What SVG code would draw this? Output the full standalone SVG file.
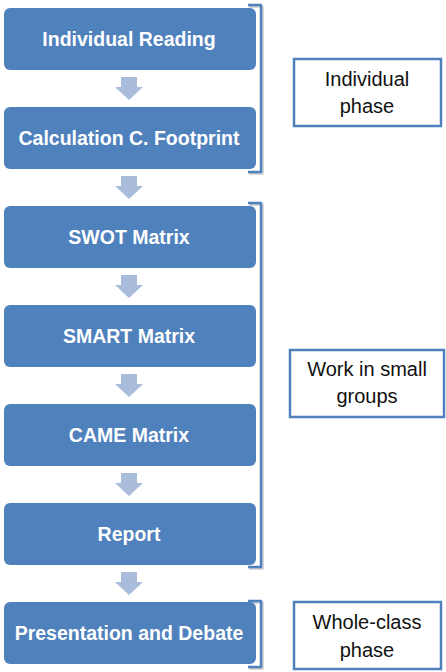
<svg xmlns="http://www.w3.org/2000/svg" width="446" height="672" viewBox="0 0 446 672">
  <style>
    .step rect { fill: #4F81BD; }
    .step text { fill: #FFFFFF; font-family: "Liberation Sans", Arial, sans-serif; font-weight: bold; font-size: 19.5px; text-anchor: middle; }
    .phase rect { fill: #FFFFFF; stroke: #4F81BD; stroke-width: 2.5; }
    .phase text { fill: #111111; font-family: "Liberation Sans", Arial, sans-serif; font-size: 20px; text-anchor: middle; }
    .arrow { fill: #A9BCDB; }
    .bracket { fill: none; stroke: #4F81BD; stroke-width: 2.5; stroke-linejoin: round; }
    .bracket-shadow { fill: none; stroke: #9A9A9A; stroke-opacity: 0.5; stroke-width: 2.5; stroke-linejoin: round; }
  </style>
  <defs>
    <polygon id="arr" points="121,7 137,7 137,17 143,17 129,30 115,17 121,17"/>
  </defs>

  <g id="connectors">
    <use href="#arr" class="arrow" y="70"/>
    <use href="#arr" class="arrow" y="169"/>
    <use href="#arr" class="arrow" y="268"/>
    <use href="#arr" class="arrow" y="367"/>
    <use href="#arr" class="arrow" y="466"/>
    <use href="#arr" class="arrow" y="565"/>
  </g>

  <g id="brackets">
    <path class="bracket-shadow" d="M249,6.5 H262.5 V173.5 H249"/>
    <path class="bracket" d="M248,5 H261 V172 H248"/>
    <path class="bracket-shadow" d="M249,204.5 H262.5 V568.5 H249"/>
    <path class="bracket" d="M248,203 H261 V567 H248"/>
    <path class="bracket-shadow" d="M249,602.5 H262.5 V668.5 H249"/>
    <path class="bracket" d="M248,601 H261 V667 H248"/>
  </g>

  <g id="step-individual-reading" class="step">
    <rect x="4" y="8" width="252" height="62" rx="6"/>
    <text x="129" y="46">Individual Reading</text>
  </g>
  <g id="step-calculation" class="step">
    <rect x="4" y="107" width="252" height="62" rx="6"/>
    <text x="129" y="145">Calculation C. Footprint</text>
  </g>
  <g id="step-swot" class="step">
    <rect x="4" y="206" width="252" height="62" rx="6"/>
    <text x="129" y="244">SWOT Matrix</text>
  </g>
  <g id="step-smart" class="step">
    <rect x="4" y="305" width="252" height="62" rx="6"/>
    <text x="129" y="343">SMART Matrix</text>
  </g>
  <g id="step-came" class="step">
    <rect x="4" y="404" width="252" height="62" rx="6"/>
    <text x="129" y="442">CAME Matrix</text>
  </g>
  <g id="step-report" class="step">
    <rect x="4" y="503" width="252" height="62" rx="6"/>
    <text x="129" y="541">Report</text>
  </g>
  <g id="step-presentation" class="step">
    <rect x="4" y="602" width="252" height="62" rx="6"/>
    <text x="129" y="640">Presentation and Debate</text>
  </g>

  <g id="phase-individual" class="phase">
    <rect x="294" y="59" width="147" height="67"/>
    <text x="367" y="86">Individual</text>
    <text x="367" y="113">phase</text>
  </g>
  <g id="phase-small-groups" class="phase">
    <rect x="290" y="350" width="154" height="67"/>
    <text x="367" y="376">Work in small</text>
    <text x="367" y="403">groups</text>
  </g>
  <g id="phase-whole-class" class="phase">
    <rect x="294" y="602" width="147" height="67"/>
    <text x="367" y="629">Whole-class</text>
    <text x="367" y="657">phase</text>
  </g>
</svg>
